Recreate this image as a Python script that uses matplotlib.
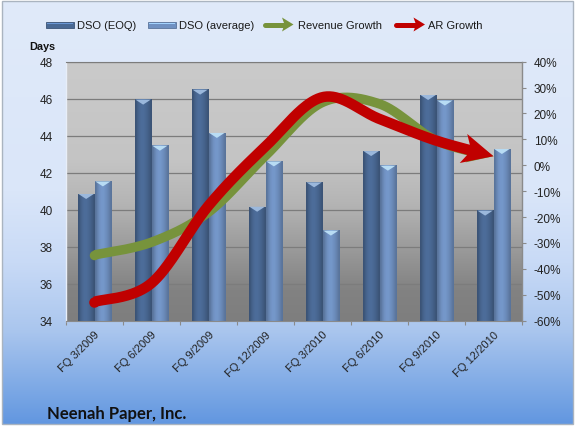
import numpy as np
import matplotlib
matplotlib.use("Agg")
import matplotlib.pyplot as plt
from matplotlib.patches import Polygon, Rectangle
from matplotlib.transforms import IdentityTransform

# ---------------- data ----------------
categories = ["FQ 3/2009", "FQ 6/2009", "FQ 9/2009", "FQ 12/2009",
              "FQ 3/2010", "FQ 6/2010", "FQ 9/2010", "FQ 12/2010"]
dso_eoq = [40.85, 45.95, 46.49, 40.16, 41.48, 43.17, 46.20, 39.95]
dso_avg = [41.53, 43.46, 44.15, 42.61, 38.87, 42.38, 45.90, 43.28]
revenue_growth = [-34.6, -29.7, -18.1, 3.7, 24.3, 23.7, 9.5, 3.5]
ar_growth = [-52.7, -45.5, -15.6, 7.3, 26.3, 17.9, 9.5, 3.5]
left_ticks = [34, 36, 38, 40, 42, 44, 46, 48]
right_ticks = [-60, -50, -40, -30, -20, -10, 0, 10, 20, 30, 40]
right_tick_labels = ["-60%", "-50%", "-40%", "-30%", "-20%", "-10%", "0%",
                     "10%", "20%", "30%", "40%"]
legend_labels = ["DSO (EOQ)", "DSO (average)", "Revenue Growth", "AR Growth"]
title_text = "Neenah Paper, Inc."
axis_title = "Days"

# ---------------- styles ----------------
W, H = 575, 427
FONT = "Liberation Sans"
EOQ_COL = (0.29, 0.41, 0.58)
AVG_COL = (0.44, 0.57, 0.76)
GREEN = "#77933c"
RED = "#c00000"

fig = plt.figure(figsize=(W / 100, H / 100), dpi=100)


def interp_colors(stops, n):
    pos = np.array([s[0] for s in stops])
    cols = np.array([s[1] for s in stops], dtype=float) / 255.0
    t = np.linspace(0, 1, n)
    return np.stack([np.interp(t, pos, cols[:, k]) for k in range(3)], axis=1)


# figure background
bg = fig.add_axes([0, 0, 1, 1], zorder=-10)
bg.set_xlim(0, W)
bg.set_ylim(H, 0)
bg.set_axis_off()
bg.add_patch(Rectangle((0, 0), W, H, color="white", zorder=0))
bgrad = interp_colors([(0.0, (224, 234, 250)), (0.45, (218, 230, 249)),
                       (0.62, (200, 218, 246)), (0.78, (170, 198, 238)),
                       (1.0, (98, 151, 224))], 300)
bg.imshow(bgrad[:, None, :], extent=[2, W - 2, H - 2, 2], aspect="auto",
          zorder=1, interpolation="bilinear")
bg.add_patch(Rectangle((2, 2), W - 4, H - 4, fill=False, edgecolor="#aab4c0",
                       lw=1.0, zorder=2))

# plot area
L, R, T, B = 66, 522, 62.7, 321.7
pos = [L / W, 1 - B / H, (R - L) / W, (B - T) / H]
pbg = fig.add_axes(pos, zorder=-5)
pbg.set_axis_off()
pgrad = interp_colors([(0.0, (202, 202, 202)), (0.38, (196, 196, 196)),
                       (0.55, (180, 180, 180)), (0.75, (150, 150, 150)),
                       (0.88, (130, 130, 130)), (1.0, (126, 126, 126))], 300)
pbg.imshow(pgrad[:, None, :], extent=[0, 1, 0, 1], aspect="auto",
           interpolation="bilinear")
pbg.set_xlim(0, 1)
pbg.set_ylim(0, 1)

ax = fig.add_axes(pos)
ax.patch.set_visible(False)
n = len(categories)
xc = np.arange(n) + 0.5
bw = 0.29
off = 0.147
ax.set_xlim(0, n)
ax.set_ylim(left_ticks[0], left_ticks[-1])

# gridlines
ax.set_yticks(left_ticks)
ax.yaxis.grid(True, color="#7c7c7c", lw=0.9)
ax.set_axisbelow(True)

px_per_day = (B - T) / (left_ticks[-1] - left_ticks[0])
cap_h = 5.0 / px_per_day


def draw_bar(xmid, val, base_col, cap_col):
    x0, x1 = xmid - bw / 2, xmid + bw / 2
    base = np.array(base_col)
    prof = np.array([0.80, 0.92, 1.0, 1.04, 1.04, 1.0, 0.95, 0.88, 0.80])
    g = np.clip(base[None, :] * prof[:, None], 0, 1)
    ax.imshow(g[None, :, :], extent=[x0, x1, left_ticks[0], val],
              aspect="auto", interpolation="bilinear", zorder=2)
    ax.add_patch(Rectangle((x0, left_ticks[0]), bw, val - left_ticks[0],
                           fill=False, edgecolor=tuple(base * 0.8), lw=0.6,
                           zorder=3))
    ax.add_patch(Polygon([(x0 + 0.01, val), (x1 - 0.01, val),
                          (xmid, val - cap_h)], closed=True, color=cap_col,
                         lw=0, zorder=4))


for i in range(n):
    draw_bar(xc[i] - off, dso_eoq[i], EOQ_COL, "#9bb8dc")
    draw_bar(xc[i] + off, dso_avg[i], AVG_COL, "#b8dcf4")

ax.set_xlim(0, n)
ax.set_ylim(left_ticks[0], left_ticks[-1])

# x axis: ticks at boundaries, labels at centers
ax.set_xticks(np.arange(n + 1))
ax.set_xticklabels([])
ax.set_xticks(xc, minor=True)
ax.set_xticklabels(categories, minor=True, rotation=45, ha="right",
                   va="top", rotation_mode="anchor", fontsize=8,
                   family=FONT, color="#222222")
ax.tick_params(axis="x", which="major", length=3.0, width=0.8,
               color="#8a8a8a", direction="out")
ax.tick_params(axis="x", which="minor", length=0, pad=6)
ax.tick_params(axis="y", length=0, pad=9.5, labelsize=8.5,
               labelcolor="#222222")
for lab in ax.get_yticklabels():
    lab.set_family(FONT)

for s in ["left"]:
    ax.spines[s].set_color("#e8eef8")
    ax.spines[s].set_linewidth(1.0)
ax.spines["bottom"].set_color("#8a8a8a")
ax.spines["top"].set_color("#7c7c7c")
ax.spines["right"].set_visible(False)

# right axis
ax2 = ax.twinx()
ax2.set_ylim(right_ticks[0], right_ticks[-1])
ax2.set_yticks(right_ticks)
ax2.set_yticklabels(right_tick_labels, family=FONT, fontsize=8.5,
                    color="#222222")
ax2.tick_params(axis="y", length=3.0, width=0.8, color="#8a8a8a", pad=5.5)
for s in ["left", "top", "bottom"]:
    ax2.spines[s].set_visible(False)
ax2.spines["right"].set_color("#8a8a8a")
ax2.spines["right"].set_linewidth(1.0)


def smooth(xs, ys, per=40):
    xs = np.asarray(xs, float)
    ys = np.asarray(ys, float)
    P = np.stack([xs, ys], axis=1)
    Pe = np.vstack([P[0], P, P[-1]])
    out = []
    t = np.linspace(0, 1, per)[:, None]
    for i in range(len(P) - 1):
        p0, p1, p2, p3 = Pe[i], Pe[i + 1], Pe[i + 2], Pe[i + 3]
        c1 = p1 + (p2 - p0) / 6.0
        c2 = p2 - (p3 - p1) / 6.0
        seg = ((1 - t) ** 3) * p1 + 3 * ((1 - t) ** 2) * t * c1 + \
            3 * (1 - t) * t ** 2 * c2 + t ** 3 * p2
        if i > 0:
            seg = seg[1:]
        out.append(seg)
    return np.vstack(out)


def arrow_series(values, color, lw_px, head_len, head_hw, notch, z):
    curve = smooth(xc, values)
    disp = ax2.transData.transform(curve)
    tip = disp[-1]
    d = np.sqrt(((disp - tip) ** 2).sum(axis=1))
    # direction from a point ~head_len back along curve
    back_idx = np.where(d >= head_len)[0][-1]
    u = tip - disp[back_idx]
    u = u / np.linalg.norm(u)
    nrm = np.array([-u[1], u[0]])
    cut_idx = np.where(d >= head_len * 0.55)[0][-1]
    keep = disp[:cut_idx + 1]
    keep = np.vstack([keep, tip - u * head_len * 0.55])
    data = ax2.transData.inverted().transform(keep)
    lw_pt = lw_px * 72 / 100
    ax2.plot(data[:, 0], data[:, 1], color=color, lw=lw_pt,
             solid_capstyle="butt", solid_joinstyle="round", zorder=z)
    ax2.plot([data[0, 0]], [data[0, 1]], "o", ms=lw_pt, color=color,
             mew=0, zorder=z)
    head = [tip, tip - u * head_len + nrm * head_hw,
            tip - u * (head_len - notch), tip - u * head_len - nrm * head_hw]
    ax2.add_patch(Polygon(head, closed=True, color=color, lw=0, zorder=z,
                          transform=IdentityTransform(), clip_on=False))


arrow_series(revenue_growth, GREEN, 9.5, 26, 12, 6, 5)
arrow_series(ar_growth, RED, 10.5, 31, 15, 8, 6)

# overlay for legend and titles
ov = fig.add_axes([0, 0, 1, 1], zorder=10)
ov.set_xlim(0, W)
ov.set_ylim(H, 0)
ov.set_axis_off()
ov.patch.set_visible(False)

ly = 25.5
# bar swatches
for x0, col in [(45.7, EOQ_COL), (147.7, AVG_COL)]:
    c = np.array(col)
    ov.add_patch(Rectangle((x0, ly - 3), 28.5, 6, facecolor=col,
                           edgecolor=tuple(c * 0.8), lw=0.6))
    ov.add_patch(Rectangle((x0 + 1, ly - 1.8), 26.5, 1.3,
                           facecolor=tuple(np.clip(c * 1.45, 0, 1)), lw=0))
# arrow swatches
for x0, x1, col in [(265, 293.5, GREEN), (395.7, 425, RED)]:
    hl = 11.5
    ov.plot([x0, x1 - hl + 2], [ly, ly], color=col, lw=5 * 0.72,
            solid_capstyle="round")
    ov.add_patch(Polygon([(x1, ly), (x1 - hl, ly - 7), (x1 - hl + 2.5, ly),
                          (x1 - hl, ly + 7)], closed=True, color=col, lw=0))
for x, lab in zip([77.3, 179.3, 298.3, 428.3], legend_labels):
    ov.text(x, ly + 0.5, lab, family=FONT, fontsize=8, color="#1a1a1a",
            ha="left", va="center")

ov.text(29, 47.5, axis_title, family=FONT, fontsize=7.8, fontweight="bold",
        color="#111111", ha="left", va="center")
ov.text(47, 414, title_text, family="Lato", fontsize=12, fontweight="bold",
        color="#111111", ha="left", va="center")

fig.savefig("out.png", dpi=100)
